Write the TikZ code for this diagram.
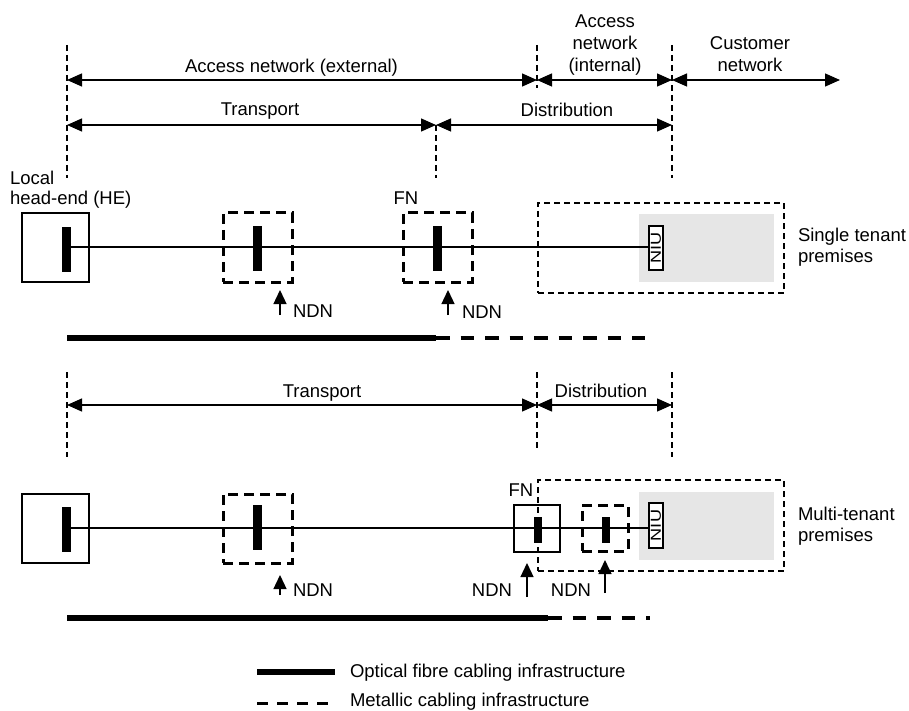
\documentclass[tikz,border=0pt]{standalone}
\usepackage{fontspec}
\usepackage{graphicx}
\setmainfont{Liberation Sans}
\usetikzlibrary{arrows.meta}
\definecolor{premgray}{RGB}{230,230,230}
\begin{document}
\begin{tikzpicture}[x=1pt,y=-1pt,
  every node/.style={font=\fontsize{18.5}{21}\selectfont, inner sep=0pt, outer sep=0pt},
  guide/.style={draw, line width=1.2pt, dash pattern=on 6pt off 4pt},
  dim/.style={line width=1.3pt, {Triangle[length=15pt,width=13pt]}-{Triangle[length=15pt,width=13pt]}},
  ndnarrow/.style={line width=1.3pt, -{Triangle[length=14pt,width=13pt]}},
  solidbox/.style={draw, line width=2.6pt},
  dashbox/.style={draw, line width=3pt, dash pattern=on 10pt off 6pt},
  eqbar/.style={fill=black, minimum width=9pt, minimum height=45pt},
  smallbar/.style={fill=black, minimum width=8pt, minimum height=26pt},
  premrect/.style={draw, line width=1.8pt, dash pattern=on 6pt off 4pt},
  graybox/.style={fill=premgray, minimum width=135pt, minimum height=68pt},
  niubox/.style={draw, line width=1.6pt, fill=white, minimum width=14pt},
  niutext/.style={rotate=90, font=\fontsize{14.5}{14.5}\selectfont},
  signal/.style={line width=2pt},
  fibre/.style={line width=6pt},
  metal/.style={line width=3.2pt, dash pattern=on 13.5pt off 11pt},
  lbl/.style={anchor=base},
  lblw/.style={anchor=base west},
  lble/.style={anchor=base east}
]
\useasboundingbox (0,0) rectangle (909,711);

% ---------------- guide lines ----------------
\coordinate (gt1a) at (67,45);   \coordinate (gt1b) at (67,178);
\coordinate (gt2a) at (537,45);  \coordinate (gt2b) at (537,88);
\coordinate (gt3a) at (672,45);  \coordinate (gt3b) at (672,178);
\coordinate (gt4a) at (436,125); \coordinate (gt4b) at (436,178);
\draw[guide] (gt1a) -- (gt1b);
\draw[guide] (gt2a) -- (gt2b);
\draw[guide] (gt3a) -- (gt3b);
\draw[guide] (gt4a) -- (gt4b);
\coordinate (gb1a) at (67,372);  \coordinate (gb1b) at (67,457);
\coordinate (gb2a) at (537,372); \coordinate (gb2b) at (537,450);
\coordinate (gb3a) at (672,372); \coordinate (gb3b) at (672,457);
\draw[guide] (gb1a) -- (gb1b);
\draw[guide] (gb2a) -- (gb2b);
\draw[guide] (gb3a) -- (gb3b);

% ---------------- dimension arrows ----------------
\coordinate (da1) at (67,80);  \coordinate (da2) at (537,80);
\coordinate (da3) at (672,80); \coordinate (da4) at (840,80);
\draw[dim] (da1) -- (da2);
\draw[dim] (da2) -- (da3);
\draw[dim] (da3) -- (da4);
\coordinate (db1) at (67,125); \coordinate (db2) at (436,125); \coordinate (db3) at (672,125);
\draw[dim] (db1) -- (db2);
\draw[dim] (db2) -- (db3);
\coordinate (dc1) at (67,405); \coordinate (dc2) at (537,405); \coordinate (dc3) at (672,405);
\draw[dim] (dc1) -- (dc2);
\draw[dim] (dc2) -- (dc3);

\node[lbl] (tAext) at (291.5,73) {Access network (external)};
\node[lbl] (tAint1) at (605,28) {Access};
\node[lbl] (tAint2) at (605,50) {network};
\node[lbl] (tAint3) at (605,72) {(internal)};
\node[lbl] (tCus1) at (750,50) {Customer};
\node[lbl] (tCus2) at (750,72) {network};
\node[lbl] (tTr1) at (260,116) {Transport};
\node[lbl] (tDi1) at (567,117) {Distribution};
\node[lbl] (tTr2) at (322,397) {Transport};
\node[lbl] (tDi2) at (601,397) {Distribution};

% ---------------- row 1: single tenant ----------------
\node[graybox] (gray1) at (706.5,248) {};
\node[premrect, minimum width=246pt, minimum height=90pt] (prem1) at (661,248) {};
\node[niubox, minimum height=44pt] (niu1) at (656,248) {};
\node[niutext] (niut1) at (niu1.center) {\scalebox{1.25}[1]{NIU}};
\coordinate (s1) at (66.5,247);
\draw[signal] (s1) -- (s1 -| niu1.west);
\node[solidbox, minimum width=67pt, minimum height=69pt] (he1) at (55.5,247.5) {};
\node[eqbar] (heb1) at (66.5,249.5) {};
\node[dashbox, minimum width=69pt, minimum height=69pt] (ndn1) at (257.5,247.5) {};
\node[eqbar] (ndnb1) at (257.5,248.5) {};
\node[dashbox, minimum width=69pt, minimum height=69pt] (fn1) at (437.5,247.5) {};
\node[eqbar] (fnb1) at (437.5,248.5) {};

\node[lblw] (tHE1) at (10,185) {Local};
\node[lblw] (tHE2) at (10,205) {head-end (HE)};
\node[lbl] (tFN1) at (406,205) {FN};
\node[lblw] (tST1) at (798,241) {Single tenant};
\node[lblw] (tST2) at (798,262) {premises};

\coordinate (n1a) at (280,315); \coordinate (n1b) at (280,290);
\draw[ndnarrow] (n1a) -- (n1b);
\node[lblw] (tN1) at (293,317) {NDN};
\coordinate (n2a) at (448,315); \coordinate (n2b) at (448,290);
\draw[ndnarrow] (n2a) -- (n2b);
\node[lblw] (tN2) at (462,318) {NDN};

\coordinate (c1a) at (67,338); \coordinate (c1b) at (436,338); \coordinate (c1c) at (645,338);
\draw[fibre] (c1a) -- (c1b);
\draw[metal] (c1b) -- (c1c);

% ---------------- row 2: multi-tenant ----------------
\node[graybox] (gray2) at (706.5,526) {};
\node[premrect, minimum width=246pt, minimum height=91pt] (prem2) at (661,525.5) {};
\node[niubox, minimum height=45pt] (niu2) at (656,525.5) {};
\node[niutext] (niut2) at (niu2.center) {\scalebox{1.25}[1]{NIU}};
\coordinate (s2) at (66.5,528);
\draw[signal] (s2) -- (s2 -| niu2.west);
\node[solidbox, minimum width=67pt, minimum height=69pt] (he2) at (55.5,528.5) {};
\node[eqbar] (heb2) at (66.5,529.5) {};
\node[dashbox, minimum width=69pt, minimum height=69pt] (ndn2) at (257.5,528.5) {};
\node[eqbar] (ndnb2) at (257.5,527.5) {};
\node[solidbox, minimum width=46pt, minimum height=47pt] (fn2) at (537,528.5) {};
\node[smallbar] (fnb2) at (538,530) {};
\node[dashbox, minimum width=46pt, minimum height=46pt] (ndn3) at (605,528) {};
\node[smallbar] (ndnb3) at (605.5,530) {};

\node[lbl] (tFN2) at (521,496) {FN};
\node[lblw] (tMT1) at (798,520) {Multi-tenant};
\node[lblw] (tMT2) at (798,541) {premises};

\coordinate (n3a) at (280,595); \coordinate (n3b) at (280,575);
\draw[ndnarrow] (n3a) -- (n3b);
\node[lblw] (tN3) at (293,596) {NDN};
\coordinate (n4a) at (527,597); \coordinate (n4b) at (527,563);
\draw[ndnarrow] (n4a) -- (n4b);
\node[lble] (tN4) at (512,596) {NDN};
\coordinate (n5a) at (605,593); \coordinate (n5b) at (605,560);
\draw[ndnarrow] (n5a) -- (n5b);
\node[lble] (tN5) at (591,596) {NDN};

\coordinate (c2a) at (67,618); \coordinate (c2b) at (548,618); \coordinate (c2c) at (650,618);
\draw[fibre] (c2a) -- (c2b);
\draw[metal] (c2b) -- (c2c);

% ---------------- legend ----------------
\coordinate (lg1a) at (257,672); \coordinate (lg1b) at (335,672);
\draw[fibre] (lg1a) -- (lg1b);
\node[lblw] (tLg1) at (350,677) {Optical fibre cabling infrastructure};
\coordinate (lg2a) at (257,703); \coordinate (lg2b) at (328,703);
\draw[line width=3pt, dash pattern=on 10.5pt off 9.5pt] (lg2a) -- (lg2b);
\node[lblw] (tLg2) at (350,706) {Metallic cabling infrastructure};
\end{tikzpicture}
\end{document}
